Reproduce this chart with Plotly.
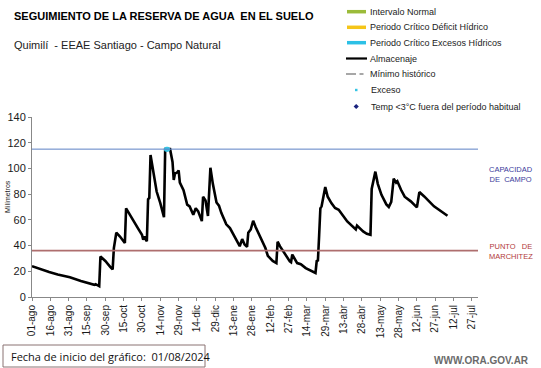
import pandas as pd
import plotly.graph_objects as go

# ---------------- data ----------------
start_date = "2024-08-01"
dias = [0, 7, 14, 21, 31, 40, 47, 51, 52, 54, 55, 56, 60, 64, 66, 67, 68, 69, 72, 76,
        77, 80, 83, 84, 87, 90, 91, 92, 93, 94, 95, 96, 97, 99, 102, 105, 108, 109, 113, 115,
        116, 117, 119, 120, 121, 124, 127, 129, 132, 134, 136, 139, 140, 142, 144, 146, 148, 151, 153, 155,
        159, 162, 166, 170, 172, 174, 176, 177, 179, 181, 183, 187, 191, 193, 197, 200, 201, 203, 207, 211,
        212, 213, 217, 220, 224, 232, 233, 234, 235, 236, 237, 240, 242, 245, 248, 251, 258, 262, 265, 266,
        271, 274, 277, 278, 281, 283, 286, 290, 292, 294, 296, 298, 299, 302, 305, 310, 315, 317, 321, 329,
        333, 340]
almacenaje = [24, 21.5, 19.4, 17.5, 15.3, 12.5, 10.3, 9.5, 10, 9, 8.5, 31.5, 28, 23.5, 21.5, 38, 46, 50, 47, 42,
              69, 64, 58.8, 57.5, 53, 48.4, 44.6, 47, 45, 43.3, 76, 77, 110.5, 99, 82, 73, 62, 115, 115, 105,
              91, 96, 97, 98.5, 89, 83, 71.8, 70.5, 64, 69, 66.6, 59, 78, 75, 63, 100.5, 88, 73.5, 71, 65.3,
              56.5, 53.6, 46, 39.5, 45, 40.8, 39, 50, 52.5, 59.3, 54.4, 45.9, 38.1, 32, 28, 26.4, 43, 39.4, 33, 27.7,
              27, 33, 26.4, 25.5, 22.5, 18.7, 28, 28.5, 48, 69, 70.5, 85.5, 78, 73, 69.2, 67.9, 58.8, 54.9, 52.5, 55.5,
              51, 49.2, 48.4, 84, 97.5, 88, 79.5, 72, 70, 74, 92, 89, 90, 83.4, 78, 74.4, 69.7, 81.6, 78.2, 70.5,
              67.9, 63.2]
exceso_dias = [110, 111]
exceso_vals = [115, 115]
capacidad_campo = 115
punto_marchitez = 36
tick_labels = ["01-ago", "16-ago", "31-ago", "15-sep", "30-sep", "15-oct", "30-oct", "14-nov", "29-nov",
               "14-dic", "29-dic", "13-ene", "28-ene", "12-feb", "27-feb", "14-mar", "29-mar", "13-abr",
               "28-abr", "13-may", "28-may", "12-jun", "27-jun", "12-jul", "27-jul"]
tick_step_days = 15
y_ticks = [0, 20, 40, 60, 80, 100, 120, 140]

# ---------------- build ----------------
t0 = pd.Timestamp(start_date)
x_alm = [t0 + pd.Timedelta(days=d) for d in dias]
x_exc = [t0 + pd.Timedelta(days=d) for d in exceso_dias]
tick_vals = [t0 + pd.Timedelta(days=tick_step_days * i) for i in range(len(tick_labels))]
x_end = t0 + pd.Timedelta(days=365)

W, H = 541, 368
L, R, T, B = 32, 63, 117, 71
PW, PH = W - L - R, H - T - B


def px(x):
    return (x - L) / PW


def py(y):
    return (H - B - y) / PH


FONT = "Liberation Sans, Arial, sans-serif"

fig = go.Figure()
fig.add_trace(go.Scatter(x=x_alm, y=almacenaje, mode="lines",
                         line=dict(color="black", width=2.6), showlegend=False,
                         hoverinfo="skip"))
fig.add_trace(go.Scatter(x=x_exc, y=exceso_vals, mode="markers",
                         marker=dict(color="#35c4e4", size=5, symbol="circle"),
                         showlegend=False, hoverinfo="skip"))

shapes = []
# reference lines
shapes.append(dict(type="line", xref="x", yref="y", x0=t0, x1=x_end,
                   y0=capacidad_campo, y1=capacidad_campo, line=dict(color="#5b80c4", width=1)))
shapes.append(dict(type="line", xref="x", yref="y", x0=t0, x1=x_end,
                   y0=punto_marchitez, y1=punto_marchitez, line=dict(color="#ae6e6e", width=1.8)))

annotations = []


def txt(x, y, s, size, color="#111", bold=False, xanchor="left", yanchor="middle", font=FONT, **kw):
    annotations.append(dict(xref="paper", yref="paper", x=px(x), y=py(y), text=(f"<b>{s}</b>" if bold else s),
                            showarrow=False, xanchor=xanchor, yanchor=yanchor,
                            font=dict(size=size, color=color, family=font), **kw))


txt(12, 16, "SEGUIMIENTO DE LA RESERVA DE AGUA  EN EL SUELO", 11, color="#000", bold=True)
txt(12, 45, "Quimilí  - EEAE Santiago - Campo Natural", 11, color="#222")

# legend (manual)
leg_rows = [11.7, 27.3, 42.7, 58.5, 74, 90, 106.5]
bar_cols = ["#9bbb3a", "#f5c518", "#2cc0e6"]
for yy, c in zip(leg_rows[:3], bar_cols):
    shapes.append(dict(type="line", xref="paper", yref="paper", x0=px(347), x1=px(366),
                       y0=py(yy), y1=py(yy), line=dict(color=c, width=3.5)))
shapes.append(dict(type="line", xref="paper", yref="paper", x0=px(346), x1=px(367),
                   y0=py(leg_rows[3]), y1=py(leg_rows[3]), line=dict(color="black", width=2.2)))
shapes.append(dict(type="line", xref="paper", yref="paper", x0=px(346), x1=px(356),
                   y0=py(leg_rows[4]), y1=py(leg_rows[4]), line=dict(color="#8a8a8a", width=1.5)))
shapes.append(dict(type="line", xref="paper", yref="paper", x0=px(359.5), x1=px(363.5),
                   y0=py(leg_rows[4]), y1=py(leg_rows[4]), line=dict(color="#8a8a8a", width=1.5)))
shapes.append(dict(type="rect", xref="paper", yref="paper", x0=px(355), x1=px(357.5),
                   y0=py(leg_rows[5] + 1.2), y1=py(leg_rows[5] - 1.2), line=dict(width=0),
                   fillcolor="#35c4e4"))
shapes.append(dict(type="path", xref="paper", yref="paper",
                   path=f"M {px(356.2)} {py(leg_rows[6]-2.6)} L {px(358.8)} {py(leg_rows[6])} "
                        f"L {px(356.2)} {py(leg_rows[6]+2.6)} L {px(353.6)} {py(leg_rows[6])} Z",
                   line=dict(width=0), fillcolor="#1a237e"))
leg_texts = ["Intervalo Normal", "Periodo Crítico Déficit Hídrico", "Periodo Crítico Excesos Hídricos",
             "Almacenaje", "Mínimo histórico", "Exceso", "Temp <3°C fuera del período habitual"]
leg_x = [368, 368, 368, 368, 368, 369, 369]
for yy, s, xx in zip(leg_rows, leg_texts, leg_x):
    txt(xx, yy, s, 9, color="#222")

# right labels
txt(487, 174.5, "CAPACIDAD<br>DE  CAMPO", 7.5, color="#3b3b9c")
txt(487, 251.5, "PUNTO   DE<br>MARCHITEZ", 7.5, color="#b23a3a")

# y-axis title
annotations.append(dict(xref="paper", yref="paper", x=px(7), y=py(197), text="Milímetros", textangle=-90,
                        showarrow=False, xanchor="center", yanchor="middle",
                        font=dict(size=7, color="#222", family=FONT)))

# bottom box
shapes.append(dict(type="rect", xref="paper", yref="paper", x0=px(3), x1=px(205), y0=py(345), y1=py(367),
                   line=dict(color="#8a7272", width=1), fillcolor="rgba(0,0,0,0)"))
txt(9, 356, "Fecha de inicio del gráfico:  01/08/2024", 11, color="#111",
    font="Open Sans, Liberation Sans, sans-serif")
txt(531, 360, "WWW.ORA.GOV.AR", 10, color="#6a6a6a", bold=True, xanchor="right")

fig.update_layout(
    width=W, height=H,
    margin=dict(l=L, r=R, t=T, b=B, autoexpand=False),
    paper_bgcolor="white", plot_bgcolor="white",
    showlegend=False,
    font=dict(family=FONT, size=11, color="#222"),
    shapes=shapes, annotations=annotations,
    xaxis=dict(type="date", range=[t0, x_end], tickmode="array", tickvals=tick_vals, ticktext=tick_labels,
               tickangle=-90, tickfont=dict(size=10, color="#1a1a1a"), showgrid=False, zeroline=False,
               showline=True, linecolor="#888", linewidth=1, ticks="outside", ticklen=3, tickcolor="#888",
               automargin=False),
    yaxis=dict(range=[0, 140], tickvals=y_ticks, tickfont=dict(size=11, color="#1a1a1a"), showgrid=False,
               zeroline=False, showline=True, linecolor="#888", linewidth=1, ticks="outside", ticklen=3,
               tickcolor="#888", automargin=False),
)

fig.write_html("out.html", config={"displayModeBar": False, "staticPlot": True},
               post_script="document.body.style.margin='0';document.body.style.overflow='hidden';"
                           "document.documentElement.style.overflow='hidden';")
